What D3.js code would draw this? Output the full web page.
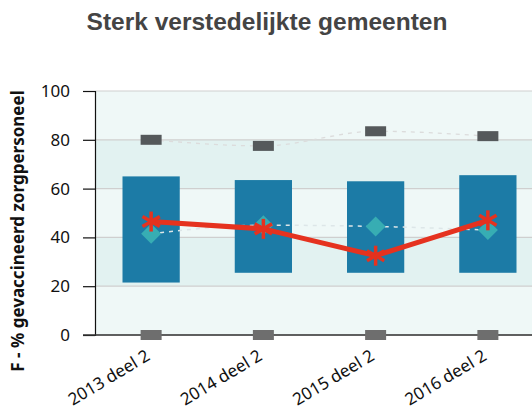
<!DOCTYPE html>
<html>
    <head>
        <meta charset="utf-8">
        <title>Sterk verstedelijkte gemeenten</title>
        <script src="https://d3js.org/d3.v7.min.js"></script>
        <style>
            html, body {
                margin: 0;
                padding: 0;
                background: #FFF;
            }
            svg {
                display: block;
            }
            .tick text {
                font-family: "Noto Sans", sans-serif;
                font-size: 17px;
                fill: #111;
            }
        </style>
    </head>
    <body>
        <svg id="chart" width="532" height="412"></svg>
        <script>
            const categories = ['2013 deel 2', '2014 deel 2', '2015 deel 2', '2016 deel 2'];
            const barLow = [21.5, 25.5, 25.5, 25.5];
            const barHigh = [65, 63.5, 63, 65.5];
            const maxMark = [80, 77.5, 83.5, 81.5];
            const minMark = [0, 0, 0, 0];
            const mean = [41.5, 45, 44.5, 43];
            const value = [46.5, 43.5, 32.5, 47];
            const yTicks = [0, 20, 40, 60, 80, 100];

            const width = 532, height = 412;
            const plotLeft = 95, plotTop = 91, plotBottom = 335, plotRight = 544;

            const svg = d3.select('#chart');

            const x = d3.scaleBand()
                .domain(categories)
                .range([plotLeft, plotRight])
                .paddingInner(0.49)
                .paddingOuter(0.245);
            const y = d3.scaleLinear()
                .domain([0, 100])
                .range([plotBottom, plotTop]);
            const cx = d => x(d) + x.bandwidth() / 2;

            // title
            svg.append('text')
                .attr('x', 267)
                .attr('y', 30)
                .attr('text-anchor', 'middle')
                .attr('font-family', '"Liberation Sans", Arial, sans-serif')
                .attr('font-weight', 'bold')
                .attr('font-size', 24.5)
                .attr('fill', '#444')
                .text('Sterk verstedelijkte gemeenten');

            // background bands
            const bands = d3.pairs(yTicks);
            svg.append('g')
                .selectAll('rect')
                .data(bands)
                .join('rect')
                .attr('x', plotLeft)
                .attr('y', d => y(d[1]))
                .attr('width', plotRight - plotLeft)
                .attr('height', d => y(d[0]) - y(d[1]))
                .attr('fill', (d, i) => i % 2 === 0 ? '#eff8f7' : '#e2f2f1');

            // grid
            svg.append('g')
                .selectAll('line')
                .data(yTicks)
                .join('line')
                .attr('x1', plotLeft)
                .attr('x2', plotRight)
                .attr('y1', d => y(d))
                .attr('y2', d => y(d))
                .attr('stroke', '#cfcfcf')
                .attr('stroke-width', 1.2);

            // dotted connector through max markers
            const curve = d3.line()
                .x((d, i) => cx(categories[i]))
                .y(d => y(d))
                .curve(d3.curveMonotoneX);
            svg.append('path')
                .attr('d', curve(maxMark))
                .attr('fill', 'none')
                .attr('stroke', '#dcdcdc')
                .attr('stroke-width', 1.3)
                .attr('stroke-dasharray', '4,5');

            // bars
            svg.append('g')
                .selectAll('rect')
                .data(categories)
                .join('rect')
                .attr('x', d => x(d))
                .attr('width', x.bandwidth())
                .attr('y', (d, i) => y(barHigh[i]))
                .attr('height', (d, i) => y(barLow[i]) - y(barHigh[i]))
                .attr('fill', '#1c7ba6');

            // dotted connector through diamonds
            svg.append('path')
                .attr('d', curve(mean))
                .attr('fill', 'none')
                .attr('stroke', '#dde6e8')
                .attr('stroke-width', 1.5)
                .attr('stroke-dasharray', '4,5');

            // max markers
            svg.append('g')
                .selectAll('rect')
                .data(maxMark)
                .join('rect')
                .attr('x', (d, i) => cx(categories[i]) - 10.5)
                .attr('y', d => y(d) - 5)
                .attr('width', 21)
                .attr('height', 10)
                .attr('fill', '#55595b');

            // diamonds
            svg.append('g')
                .selectAll('path')
                .data(mean)
                .join('path')
                .attr('transform', (d, i) => `translate(${cx(categories[i])},${y(d)})`)
                .attr('d', 'M0,-10L10,0L0,10L-10,0Z')
                .attr('fill', '#37adb3');

            // red line
            svg.append('path')
                .attr('d', d3.line().x((d, i) => cx(categories[i])).y(d => y(d))(value))
                .attr('fill', 'none')
                .attr('stroke', '#e5321f')
                .attr('stroke-width', 5);

            const star = svg.append('g')
                .selectAll('g')
                .data(value)
                .join('g')
                .attr('transform', (d, i) => `translate(${cx(categories[i])},${y(d)})`);
            [90, 30, -30].forEach(a => {
                const r = 10, t = a * Math.PI / 180;
                star.append('line')
                    .attr('x1', -r * Math.cos(t))
                    .attr('y1', -r * Math.sin(t))
                    .attr('x2', r * Math.cos(t))
                    .attr('y2', r * Math.sin(t))
                    .attr('stroke', '#e5321f')
                    .attr('stroke-width', 3.5);
            });

            // axes
            const yAxis = svg.append('g')
                .attr('transform', `translate(${plotLeft},0)`)
                .call(d3.axisLeft(y).tickValues(yTicks).tickSize(12).tickPadding(13));
            yAxis.select('.domain').attr('stroke', '#111').attr('stroke-width', 1.2);
            yAxis.selectAll('.tick line').attr('stroke', '#111').attr('stroke-width', 1.2);

            svg.append('line')
                .attr('x1', plotLeft - 12)
                .attr('x2', width)
                .attr('y1', plotBottom)
                .attr('y2', plotBottom)
                .attr('stroke', '#333')
                .attr('stroke-width', 1.5);

            // min markers
            svg.append('g')
                .selectAll('rect')
                .data(minMark)
                .join('rect')
                .attr('x', (d, i) => cx(categories[i]) - 10.5)
                .attr('y', d => y(d) - 5)
                .attr('width', 21)
                .attr('height', 10)
                .attr('fill', '#6e6e6e');

            const xAxis = svg.append('g')
                .attr('transform', `translate(0,${plotBottom})`)
                .call(d3.axisBottom(x).tickSize(0).tickPadding(0));
            xAxis.select('.domain').remove();
            xAxis.selectAll('.tick text')
                .attr('text-anchor', 'end')
                .attr('dy', null)
                .attr('y', null)
                .attr('transform', 'translate(0,24) rotate(-31)');

            // y title
            svg.append('text')
                .attr('transform', 'translate(24,231) rotate(-90)')
                .attr('text-anchor', 'middle')
                .attr('font-family', '"Noto Sans", sans-serif')
                .attr('font-weight', 'bold')
                .attr('font-size', 17)
                .attr('fill', '#111')
                .text('F - % gevaccineerd zorgpersoneel');
        </script>
    </body>
</html>
